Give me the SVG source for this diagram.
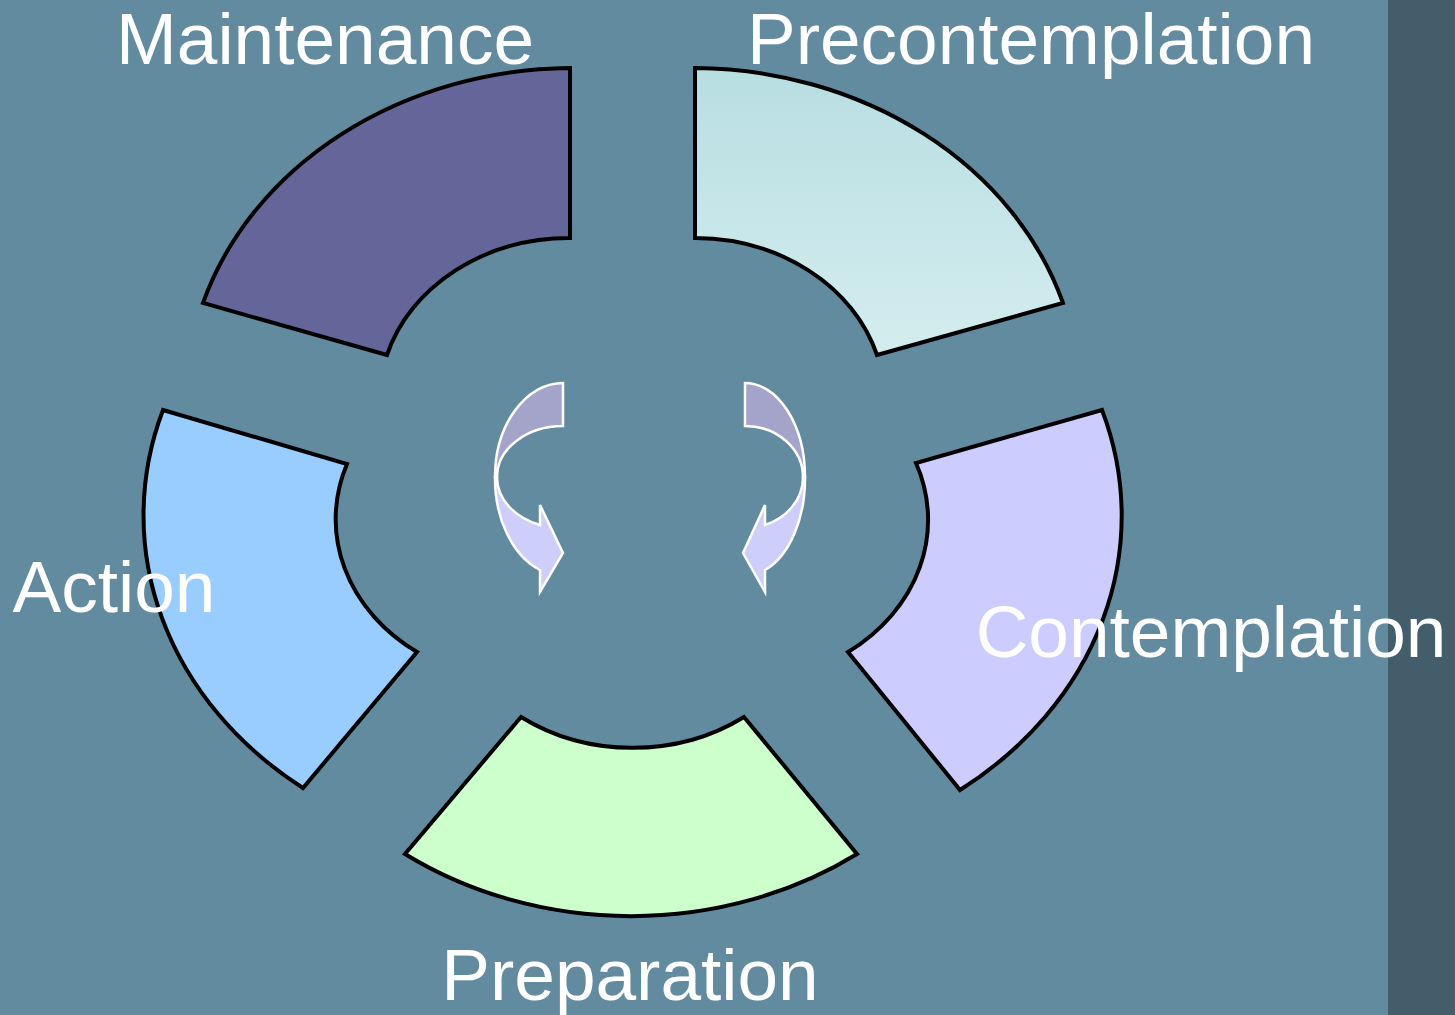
<svg xmlns="http://www.w3.org/2000/svg" width="1455" height="1015" viewBox="0 0 1455 1015">
  <defs>
    <linearGradient id="gradPre" x1="0" y1="0" x2="0" y2="1">
      <stop offset="0" stop-color="#B8DEE2"/>
      <stop offset="1" stop-color="#D4EDEF"/>
    </linearGradient>
  </defs>
  <style>
    .seg { stroke: #000000; stroke-width: 4; stroke-linejoin: miter; }
    .arrow-back { fill: #A4A3C9; stroke: #FFFFFF; stroke-width: 2.5; stroke-linejoin: miter; }
    .arrow-front { fill: #CECEFA; stroke: #FFFFFF; stroke-width: 2.5; stroke-linejoin: miter; }
    .label { font-family: "Liberation Sans", Arial, sans-serif; font-size: 73px; fill: #FFFFFF; text-anchor: middle; }
  </style>

  <!-- slide background and right margin band -->
  <rect x="0" y="0" width="1455" height="1015" fill="#628B9F"/>
  <rect x="1388" y="0" width="67" height="1015" fill="#445D6A"/>

  <!-- ring segments -->
  <g id="maintenance">
    <path class="seg" fill="#646699" d="M 570,68 A 388 332 0 0 0 203,303 L 387,355 A 190 162 0 0 1 570,238 Z"/>
  </g>
  <g id="precontemplation">
    <path class="seg" fill="url(#gradPre)" d="M 695,68 A 388 332 0 0 1 1063,303 L 877,355 A 190 162 0 0 0 695,238 Z"/>
  </g>
  <g id="contemplation">
    <path class="seg" fill="#CCCCFF" d="M 1102,410 A 396 340 0 0 1 960,790 L 848,652 A 190 162 0 0 0 916,463 Z"/>
  </g>
  <g id="preparation">
    <path class="seg" fill="#CCFFCC" d="M 521,717 A 190 162 0 0 0 744,717 L 857,854 A 388 332 0 0 1 405,854 Z"/>
  </g>
  <g id="action">
    <path class="seg" fill="#99CCFF" d="M 163,410 A 396 340 0 0 0 303,788 L 417,652 A 190 162 0 0 1 347,464 Z"/>
  </g>

  <!-- curved arrows in the middle of the cycle -->
  <g id="connectors">
    <g id="arrow-left">
      <path class="arrow-back" d="M 563,383 L 563,426 A 66 51 0 0 0 497,477 L 495,477 A 68 94 0 0 1 563,383 Z"/>
      <path class="arrow-front" d="M 497,477 A 66 51 0 0 0 540,525 L 540,505 L 563,553 L 540,592 L 540,570 A 68 97 0 0 1 495,477 Z"/>
    </g>
    <g id="arrow-right">
      <path class="arrow-back" d="M 745,383 L 745,426 A 58 51 0 0 1 803,477 L 805,477 A 60 94 0 0 0 745,383 Z"/>
      <path class="arrow-front" d="M 803,477 A 58 51 0 0 1 765,525 L 765,505 L 743,553 L 765,592 L 765,570 A 60 97 0 0 0 805,477 Z"/>
    </g>
  </g>

  <!-- stage labels -->
  <g id="labels">
    <text class="label" x="325" y="64">Maintenance</text>
    <text class="label" x="1031" y="64">Precontemplation</text>
    <text class="label" x="114" y="612">Action</text>
    <text class="label" x="1211" y="657">Contemplation</text>
    <text class="label" x="630" y="1000">Preparation</text>
  </g>
</svg>
